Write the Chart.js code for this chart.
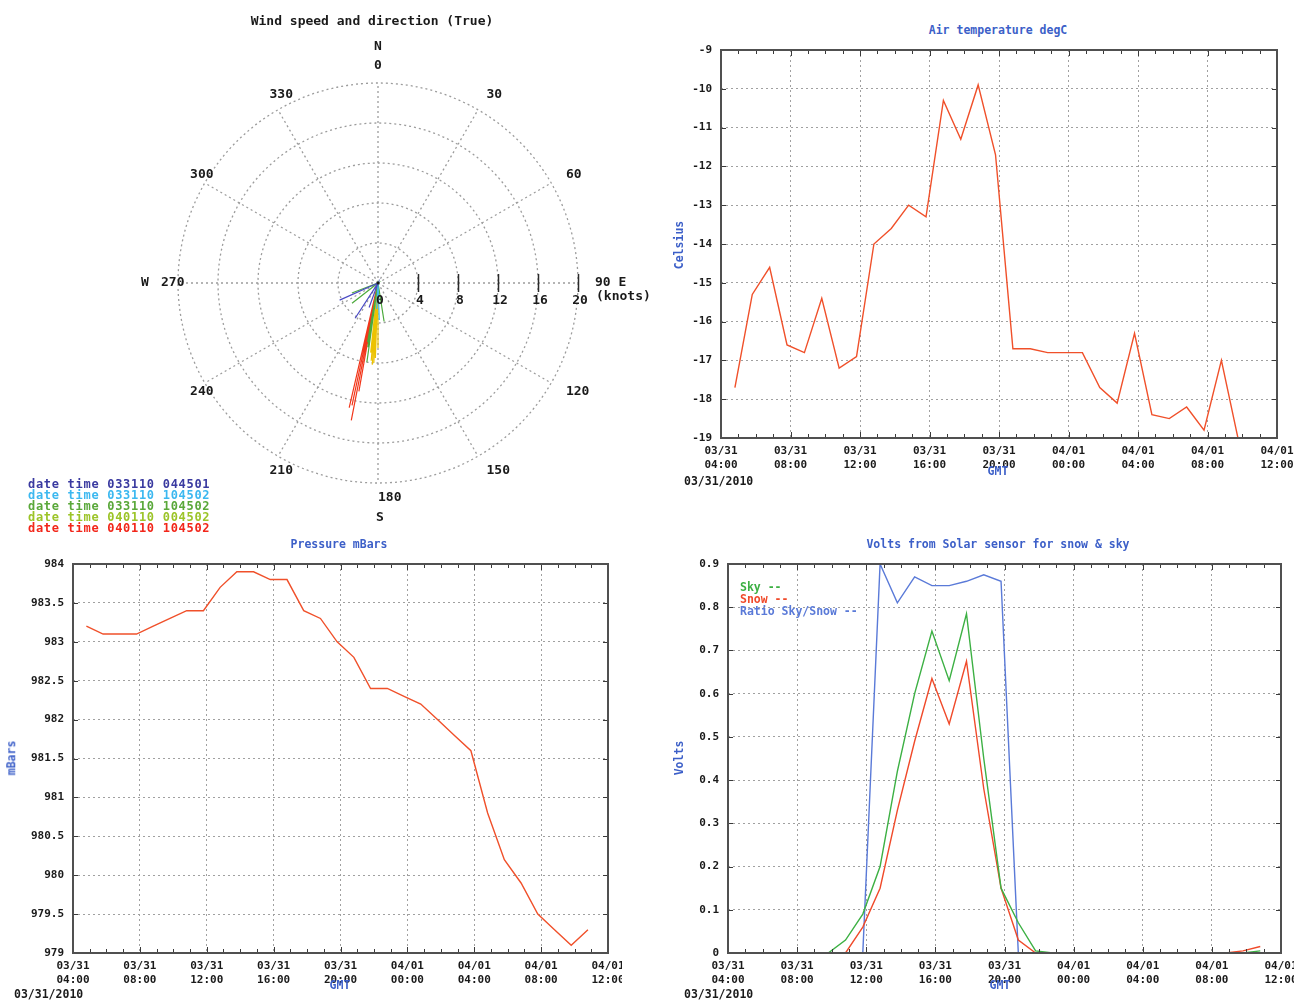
<!DOCTYPE html>
<html>
<head>
<meta charset="utf-8">
<script src="https://cdn.jsdelivr.net/npm/chart.js@4.4.1/dist/chart.umd.min.js"></script>
<style>
  body { margin: 0; background: #fff; width: 1294px; height: 1001px; position: relative; overflow: hidden;
         font-family: 'DejaVu Sans Mono', monospace; font-weight: bold; }
  .box { position: absolute; }
  .t { position: absolute; white-space: nowrap; font-size: 11.5px; line-height: 1; color: #1a1a1a; }
  .c { transform: translate(-50%, -50%); }
  .r { transform: translate(-50%, -50%) rotate(-90deg); }
  .blue { color: #3c5fc8; }
  #windLegend { position: absolute; left: 28px; top: 479px; font-size: 12px; line-height: 11px; letter-spacing: 0.7px; }
</style>
</head>
<body>

<div class="box" style="left:130px;top:0px"><canvas id="wind" width="530" height="540"></canvas></div>
<div class="box" style="left:660px;top:40px"><canvas id="temp" width="634" height="450"></canvas></div>
<div class="box" style="left:0px;top:554px"><canvas id="press" width="622" height="446"></canvas></div>
<div class="box" style="left:660px;top:554px"><canvas id="volts" width="634" height="446"></canvas></div>

<div class="t c" style="left:372px;top:20px;font-size:13px">Wind speed and direction (True)</div>
<div id="windLegend"></div>

<div class="t c blue" style="left:998px;top:31px">Air temperature degC</div>
<div class="t r blue" style="left:680px;top:245px">Celsius</div>
<div class="t c blue" style="left:998px;top:472px">GMT</div>
<div class="t" style="left:684px;top:476px">03/31/2010</div>

<div class="t c blue" style="left:339px;top:545px">Pressure mBars</div>
<div class="t r blue" style="left:12px;top:758px">mBars</div>
<div class="t c blue" style="left:340px;top:986px">GMT</div>
<div class="t" style="left:14px;top:989px">03/31/2010</div>

<div class="t c blue" style="left:998px;top:545px">Volts from Solar sensor for snow &amp; sky</div>
<div class="t r blue" style="left:680px;top:758px">Volts</div>
<div class="t c blue" style="left:1000px;top:986px">GMT</div>
<div class="t" style="left:684px;top:989px">03/31/2010</div>

<script>
// ---- data ----
// hours counted from 03/31 00:00 GMT
const hours = [4.8, 5.8, 6.8, 7.8, 8.8, 9.8, 10.8, 11.8, 12.8, 13.8, 14.8, 15.8, 16.8, 17.8, 18.8,
               19.8, 20.8, 21.8, 22.8, 23.8, 24.8, 25.8, 26.8, 27.8, 28.8, 29.8, 30.8, 31.8, 32.8, 33.8, 34.8];

const airTemp = [-17.7, -15.3, -14.6, -16.6, -16.8, -15.4, -17.2, -16.9, -14.0, -13.6, -13.0, -13.3, -10.3, -11.3, -9.9,
                 -11.7, -16.7, -16.7, -16.8, -16.8, -16.8, -17.7, -18.1, -16.3, -18.4, -18.5, -18.2, -18.8, -17.0, -19.1];

const pressure = [983.2, 983.1, 983.1, 983.1, 983.2, 983.3, 983.4, 983.4, 983.7, 983.9, 983.9, 983.8, 983.8, 983.4, 983.3,
                  983.0, 982.8, 982.4, 982.4, 982.3, 982.2, 982.0, 981.8, 981.6, 980.8, 980.2, 979.9, 979.5, 979.3, 979.1, 979.3];

const skyVolts = [0, 0, 0, 0, 0, 0, 0.03, 0.09, 0.2, 0.42, 0.6, 0.745, 0.63, 0.785, 0.45,
                  0.15, 0.07, 0.005, 0, 0, 0, 0, 0, 0, 0, 0, 0, 0, 0, 0, 0.005];
const snowVolts = [0, 0, 0, 0, 0, 0, 0, 0.06, 0.15, 0.33, 0.49, 0.635, 0.53, 0.675, 0.38,
                   0.15, 0.03, 0, 0, 0, 0, 0, 0, 0, 0, 0, 0, 0, 0, 0.005, 0.015];
const ratioVolts = [0, 0, 0, 0, 0, 0, 0, 0, 0.9, 0.81, 0.87, 0.85, 0.85, 0.86, 0.875,
                    0.86, 0, 0, 0, 0, 0, 0, 0, 0, 0, 0, 0, 0, 0, 0, 0];

const timeTicks = [4, 8, 12, 16, 20, 24, 28, 32, 36];
const timeLabels = [['03/31', '04:00'], ['03/31', '08:00'], ['03/31', '12:00'], ['03/31', '16:00'], ['03/31', '20:00'],
                    ['04/01', '00:00'], ['04/01', '04:00'], ['04/01', '08:00'], ['04/01', '12:00']];

// wind vectors: direction (deg true) and speed (knots), one list per report
const windLabels = ['date time 033110 044501', 'date time 033110 104502', 'date time 033110 104502',
                    'date time 040110 004502', 'date time 040110 104502'];
const windDirs = [[246, 213, 200],
                  [178, 183],
                  [249, 232, 171, 190, 189, 188],
                  [182, 183, 185, 180, 184, 186],
                  [191, 192, 190, 193, 191, 192, 190, 191]];
const windSpeeds = [[4.2, 4.2, 2.6],
                    [3.7, 2.6],
                    [2.8, 3.3, 3.9, 6.0, 6.5, 8.0],
                    [7.5, 8.0, 7.8, 6.5, 8.2, 7.0],
                    [12.0, 12.5, 11.0, 12.8, 9.5, 11.8, 10.5, 14.0]];
const ringKnots = [4, 8, 12, 16, 20];
const knotLabels = [0, 4, 8, 12, 16, 20];
const spokeDegrees = [0, 30, 60, 90, 120, 150, 180, 210, 240, 270, 300, 330];

// ---- styles ----
const FONT = 'DejaVu Sans Mono';
const windLineColors = ['#4a4ac4', '#3cb8f0', '#4caa3c', '#ecc200', '#f2361a'];
const windTextColors = ['#3a3aa0', '#3cb8f0', '#5aa83a', '#9cc428', '#f2261a'];

// frame with inward ticks, drawn over the lines like the original plots
const framePlugin = {
  id: 'frame',
  afterDatasetsDraw(chart) {
    const {ctx, chartArea: a, scales: {x, y}} = chart;
    ctx.save();
    ctx.strokeStyle = '#3a3a3a';
    ctx.lineWidth = 1;
    ctx.beginPath();
    for (let h = x.min; h <= x.max; h++) {
      const len = h % 4 === 0 ? 6 : 4;
      const px = Math.round(x.getPixelForValue(h)) + 0.5;
      ctx.moveTo(px, a.bottom); ctx.lineTo(px, a.bottom - len);
      ctx.moveTo(px, a.top); ctx.lineTo(px, a.top + len);
    }
    y.ticks.forEach(t => {
      const py = Math.round(y.getPixelForValue(t.value)) + 0.5;
      ctx.moveTo(a.left, py); ctx.lineTo(a.left + 5, py);
      ctx.moveTo(a.right, py); ctx.lineTo(a.right - 5, py);
    });
    ctx.stroke();
    ctx.strokeStyle = '#505050';
    ctx.lineWidth = 2;
    ctx.strokeRect(a.left, a.top, a.right - a.left, a.bottom - a.top);
    ctx.restore();
  }
};

// text legend inside the volts plot
const textLegend = {
  id: 'textLegend',
  afterDraw(chart) {
    const {ctx, chartArea: a} = chart;
    ctx.save();
    ctx.font = 'bold 11.5px ' + FONT;
    ctx.textBaseline = 'middle';
    chart.data.datasets.forEach((ds, i) => {
      ctx.fillStyle = ds.borderColor;
      ctx.fillText(ds.label + ' --', a.left + 12, a.top + 24 + i * 12);
    });
    ctx.restore();
  }
};

function timeAxis() {
  return {
    type: 'linear', min: 4, max: 36,
    afterBuildTicks: s => { s.ticks = timeTicks.map(v => ({value: v})); },
    afterFit: s => { s.paddingLeft = 0; s.paddingRight = 0; },
    ticks: { callback: (v, i) => timeLabels[i], maxRotation: 0, autoSkip: false, padding: 7,
             color: '#1a1a1a', font: {family: FONT, size: 11, weight: 'bold'} },
    grid: { color: '#a0a0a0', lineWidth: 1, drawTicks: false },
    border: { display: false, dash: [2, 3] }
  };
}

function valueAxis(min, max, step, width, fmt) {
  return {
    min: min, max: max,
    ticks: { stepSize: step, callback: fmt, padding: 9, color: '#1a1a1a',
             font: {family: FONT, size: 11, weight: 'bold'} },
    afterFit: s => { s.width = width; s.paddingTop = 0; s.paddingBottom = 0; },
    grid: { color: '#a0a0a0', lineWidth: 1, drawTicks: false },
    border: { display: false, dash: [2, 3] }
  };
}

function series(label, values, color) {
  return {
    label: label,
    data: values.map((v, i) => ({x: hours[i], y: v})),
    borderColor: color, borderWidth: 1.4, pointRadius: 0, tension: 0, fill: false
  };
}

function lineChart(id, datasets, yAxis, xHeight, pad, plugins) {
  const x = timeAxis();
  x.afterFit = s => { s.height = xHeight; s.paddingLeft = 0; s.paddingRight = 0; };
  return new Chart(document.getElementById(id), {
    type: 'line',
    data: { datasets: datasets },
    options: {
      responsive: false, animation: false,
      layout: { padding: pad },
      scales: { x: x, y: yAxis },
      plugins: { legend: {display: false}, tooltip: {enabled: false} }
    },
    plugins: plugins
  });
}

lineChart('temp', [series('Air temperature', airTemp, '#f0502a')],
  valueAxis(-19, -9, 1, 61, v => String(v)), 52, {top: 10, right: 17, left: 0, bottom: 0}, [framePlugin]);

lineChart('press', [series('Pressure', pressure, '#f0502a')],
  valueAxis(979, 984, 0.5, 73, v => String(v)), 47, {top: 10, right: 14, left: 0, bottom: 0}, [framePlugin]);

lineChart('volts', [series('Sky', skyVolts, '#3cb043'),
                    series('Snow', snowVolts, '#f04a2a'),
                    series('Ratio Sky/Snow', ratioVolts, '#5a7ad8')],
  valueAxis(0, 0.9, 0.1, 68, v => (v === 0 ? '0' : v.toFixed(1))), 47, {top: 10, right: 13, left: 0, bottom: 0},
  [framePlugin, textLegend]);

// ---- wind rose ----
const polarGrid = {
  id: 'polarGrid',
  beforeDatasetsDraw(chart) {
    const {ctx, scales: {x, y}} = chart;
    const cx = x.getPixelForValue(0), cy = y.getPixelForValue(0);
    const k = x.getPixelForValue(1) - cx;
    const outer = ringKnots[ringKnots.length - 1] * k;
    ctx.save();
    ctx.strokeStyle = '#9c9c9c';
    ctx.lineWidth = 1.3;
    ctx.setLineDash([2, 3]);
    ringKnots.forEach(r => { ctx.beginPath(); ctx.arc(cx, cy, r * k, 0, 2 * Math.PI); ctx.stroke(); });
    spokeDegrees.forEach(d => {
      const t = d * Math.PI / 180;
      ctx.beginPath();
      ctx.moveTo(cx, cy);
      ctx.lineTo(cx + Math.sin(t) * outer, cy - Math.cos(t) * outer);
      ctx.stroke();
    });
    ctx.setLineDash([]);

    ctx.fillStyle = '#1a1a1a';
    ctx.font = 'bold 13px ' + FONT;
    ctx.textBaseline = 'middle';
    const lr = outer + 17;
    spokeDegrees.forEach(d => {
      const t = d * Math.PI / 180;
      const px = cx + Math.sin(t) * lr, py = cy - Math.cos(t) * lr;
      if (d === 0) {
        ctx.textAlign = 'center';
        ctx.fillText('0', cx, py);
        ctx.fillText('N', cx, py - 19);
      } else if (d === 90) {
        ctx.textAlign = 'left';
        ctx.fillText('90 E', px, py);
        ctx.fillText('(knots)', px + 1, py + 14);
      } else if (d === 180) {
        ctx.textAlign = 'left';
        ctx.fillText('180', px, py - 2);
        ctx.textAlign = 'center';
        ctx.fillText('S', cx + 2, py + 18);
      } else if (d === 270) {
        ctx.textAlign = 'left';
        ctx.fillText('270', px, py);
        ctx.textAlign = 'center';
        ctx.fillText('W', px - 16, py);
      } else {
        ctx.textAlign = 'left';
        ctx.fillText(String(d), px, py);
      }
    });
    ctx.restore();
  },
  afterDatasetsDraw(chart) {
    const {ctx, scales: {x, y}} = chart;
    const cx = x.getPixelForValue(0), cy = y.getPixelForValue(0);
    const k = x.getPixelForValue(1) - cx;
    ctx.save();
    ctx.strokeStyle = '#2a2a2a';
    ctx.lineWidth = 1.5;
    ctx.fillStyle = '#1a1a1a';
    ctx.font = 'bold 13px ' + FONT;
    ctx.textAlign = 'center';
    ctx.textBaseline = 'middle';
    knotLabels.forEach(s => {
      const px = cx + s * k;
      if (s > 0) {
        ctx.beginPath(); ctx.moveTo(Math.round(px) + 0.5, cy - 9); ctx.lineTo(Math.round(px) + 0.5, cy + 9); ctx.stroke();
      }
      ctx.fillText(String(s), px + 2, cy + 18);
    });
    ctx.beginPath(); ctx.arc(cx, cy, 1.5, 0, 2 * Math.PI); ctx.fill();
    ctx.restore();
  }
};

const windSets = windDirs.map((dirs, g) => {
  const pts = [];
  dirs.forEach((d, i) => {
    const t = d * Math.PI / 180, s = windSpeeds[g][i];
    pts.push({x: 0, y: 0});
    pts.push({x: s * Math.sin(t), y: s * Math.cos(t)});
  });
  return { label: windLabels[g], data: pts, showLine: true, borderColor: windLineColors[g],
           borderWidth: 1.2, pointRadius: 0, clip: false };
});

// draw the longest (red) reports first so the short ones stay visible on top
new Chart(document.getElementById('wind'), {
  type: 'scatter',
  data: { datasets: windSets },
  options: {
    responsive: false, animation: false,
    layout: { padding: {left: 48, right: 82, top: 83, bottom: 57} },
    scales: {
      x: { type: 'linear', min: -20, max: 20, display: false },
      y: { type: 'linear', min: -20, max: 20, display: false }
    },
    plugins: { legend: {display: false}, tooltip: {enabled: false} }
  },
  plugins: [polarGrid]
});

document.getElementById('windLegend').innerHTML = windLabels
  .map((l, i) => '<div style="color:' + windTextColors[i] + '">' + l + '</div>').join('');
</script>
</body>
</html>
